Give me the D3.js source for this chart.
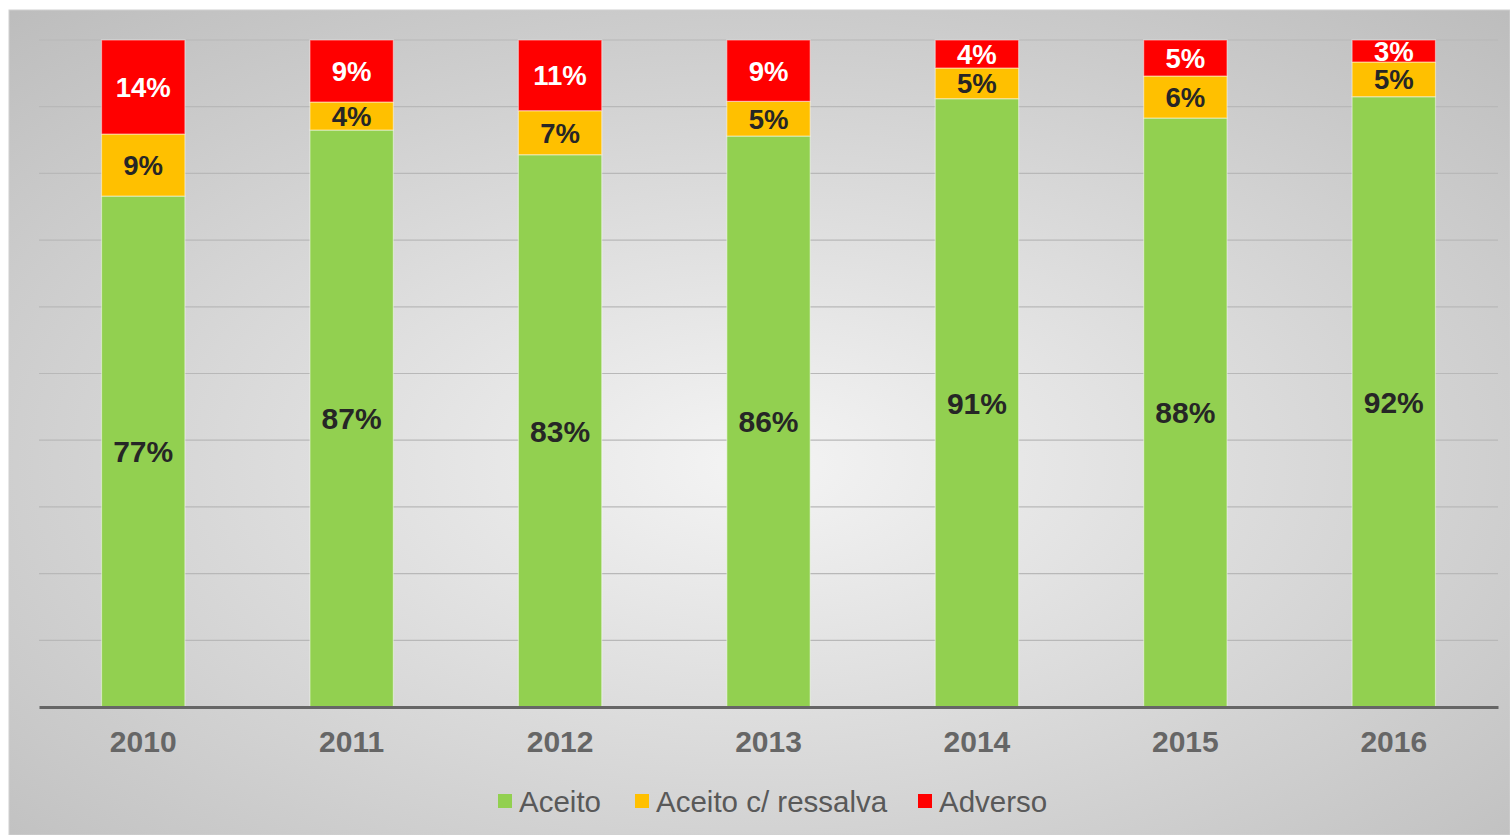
<!DOCTYPE html>
<html>
<head>
<meta charset="utf-8">
<script src="https://cdn.jsdelivr.net/npm/d3@7"></script>
<style>
  body { margin: 0; background: #fff; }
  svg text { font-family: "Liberation Sans", Arial, sans-serif; }
</style>
</head>
<body>
<div id="canvas"></div>
<script>
// Data (share of each year, in %)
const years = ["2010", "2011", "2012", "2013", "2014", "2015", "2016"];
const aceito = [76.6, 86.5, 82.8, 85.6, 91.2, 88.3, 91.5];
const ressalva = [9.3, 4.2, 6.6, 5.2, 4.6, 6.3, 5.2];
const adverso = [14.1, 9.3, 10.6, 9.2, 4.2, 5.4, 3.3];
const seriesNames = ["Aceito", "Aceito c/ ressalva", "Adverso"];
const seriesColors = ["#92d050", "#ffc000", "#ff0000"];
const labelColors = ["#262626", "#262626", "#ffffff"];

const W = 1510, H = 835;
const margin = { top: 40, right: 12, bottom: 128, left: 39 };
const width = W - margin.left - margin.right,
    height = H - margin.top - margin.bottom;

const svg = d3.select("#canvas")
    .append("svg")
    .attr("width", W)
    .attr("height", H);

// Background panel with radial gradient
const defs = svg.append("defs");
const grad = defs.append("radialGradient")
    .attr("id", "bg")
    .attr("cx", "50%").attr("cy", "55%").attr("r", "75%");
grad.append("stop").attr("offset", "0%").attr("stop-color", "#f4f4f4");
grad.append("stop").attr("offset", "100%").attr("stop-color", "#bcbcbc");

svg.append("rect")
    .attr("x", 9).attr("y", 10)
    .attr("width", W - 9).attr("height", H - 10)
    .attr("fill", "url(#bg)")
    .attr("stroke", "#d0d0d0");

const g = svg.append("g")
    .attr("transform", `translate(${margin.left},${margin.top})`);

const x = d3.scaleBand()
    .domain(years)
    .range([0, width])
    .paddingInner(0.6)
    .paddingOuter(0.3);

const y = d3.scaleLinear()
    .domain([0, 100])
    .range([height, 0]);

// Gridlines
g.append("g")
    .selectAll("line")
    .data(y.ticks(10).filter(d => d > 0))
    .join("line")
    .attr("x1", 0).attr("x2", width)
    .attr("y1", d => y(d)).attr("y2", d => y(d))
    .attr("stroke", "#b8b8b8")
    .attr("stroke-width", 1.2);

// Stack the series
const rows = years.map((yr, i) => ({ year: yr, a: aceito[i], r: ressalva[i], d: adverso[i] }));
const stack = d3.stack().keys(["a", "r", "d"])(rows);

stack.forEach((layer, k) => {
    const grp = g.append("g");
    grp.selectAll("rect")
        .data(layer)
        .join("rect")
        .attr("x", d => x(d.data.year))
        .attr("y", d => y(d[1]))
        .attr("width", x.bandwidth())
        .attr("height", d => y(d[0]) - y(d[1]))
        .attr("fill", seriesColors[k])
        .attr("stroke", "rgba(255,255,255,0.45)")
        .attr("stroke-width", 1.2);

    grp.selectAll("text")
        .data(layer)
        .join("text")
        .attr("x", d => x(d.data.year) + x.bandwidth() / 2)
        .attr("y", d => (y(d[0]) + y(d[1])) / 2)
        .attr("dy", "0.36em")
        .attr("text-anchor", "middle")
        .attr("font-size", k === 0 ? 30 : 27.5)
        .attr("font-weight", "bold")
        .attr("fill", labelColors[k])
        .text(d => Math.round(d[1] - d[0]) + "%");
});

// X axis
const xAxis = g.append("g")
    .attr("transform", `translate(0,${height})`)
    .call(d3.axisBottom(x).tickSize(0).tickPadding(24));
xAxis.select(".domain")
    .attr("stroke", "#666")
    .attr("stroke-width", 3);
xAxis.selectAll("text")
    .attr("font-size", 30)
    .attr("font-weight", "bold")
    .attr("fill", "#666")
    .attr("font-family", "Liberation Sans, Arial, sans-serif");

// Legend
const legendX = [498, 635, 918];
const legend = svg.append("g")
    .attr("transform", "translate(0,801)");
seriesNames.forEach((name, i) => {
    legend.append("rect")
        .attr("x", legendX[i]).attr("y", -7)
        .attr("width", 14).attr("height", 14)
        .attr("fill", seriesColors[i]);
    legend.append("text")
        .attr("x", legendX[i] + 21)
        .attr("y", 0)
        .attr("dy", "0.36em")
        .attr("font-size", 29.5)
        .attr("fill", "#595959")
        .text(name);
});
</script>
</body>
</html>
